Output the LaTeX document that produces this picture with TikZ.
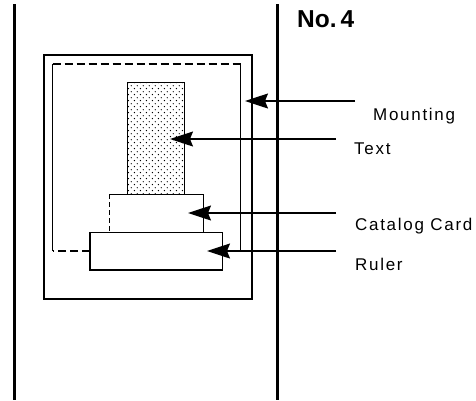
\documentclass[tikz,border=0pt]{standalone}
\usepackage{fontspec}
\setmainfont{Liberation Sans}
\newfontfamily\labfont[LetterSpace=10]{Liberation Sans}
\usetikzlibrary{arrows.meta,patterns}
\pgfdeclarepatternformonly{sdots}{\pgfpointorigin}{\pgfpoint{5.8pt}{5.8pt}}{\pgfpoint{5.8pt}{5.8pt}}{%
  \pgfpathcircle{\pgfpoint{1.45pt}{1.45pt}}{0.7pt}%
  \pgfpathcircle{\pgfpoint{4.35pt}{4.35pt}}{0.7pt}%
  \pgfusepath{fill}}
\tikzset{
  boxnode/.style={draw, line width=1.3pt, inner sep=0pt, outer sep=0pt, anchor=north west},
  plainnode/.style={inner sep=0pt, outer sep=0pt, anchor=north west},
  lab/.style={inner sep=0pt, anchor=base west, font=\labfont\fontsize{17}{20}\selectfont},
  leader/.style={line width=1.2pt, -{Stealth[length=23pt,width=15pt,inset=3pt]}},
  thickline/.style={line width=3pt},
  dashline/.style={line width=1.3pt, dash pattern=on 8pt off 4pt},
}
\begin{document}
\begin{tikzpicture}[x=1pt,y=-1pt]
\useasboundingbox (0,0) rectangle (476,400);
% page edges
\coordinate (lt) at (14,4); \coordinate (lb) at (14,400);
\coordinate (rt) at (277,4); \coordinate (rb) at (277,400);
\draw[thickline] (lt) -- (lb);
\draw[thickline] (rt) -- (rb);
% outer mounting box
\node[boxnode, minimum width=208pt, minimum height=244pt] (outer) at (44,55) {};
% dashed inner outline
\coordinate (d1) at (90,251);
\coordinate (d2) at (52.7,251);
\coordinate (d3) at (52.7,64);
\coordinate (d4) at (240.7,64);
\coordinate (d5) at (240.7,251);
\draw[dashline] (d1) -- (d2);
\draw[line width=1.3pt] (d2) -- (d3);
\draw[dashline] (d3) -- (d4);
\draw[line width=1.3pt] (d4) -- (d5);
% text block
\node[boxnode, pattern=sdots, minimum width=56.6pt, minimum height=112pt] (text) at (127.7,82.3) {};
% catalog card
\node[plainnode, minimum width=94pt, minimum height=38pt] (card) at (109.3,194.3) {};
\draw[line width=1.3pt] (card.north west) -- (card.north east) -- (card.south east);
\draw[line width=1.3pt, dash pattern=on 5pt off 3pt] (card.north west) -- (card.south west);
% ruler
\node[boxnode, fill=white, minimum width=132.3pt, minimum height=37.7pt] (ruler) at (90,232.3) {};
% labels
\node[font=\bfseries\fontsize{24.5}{27}\selectfont, inner sep=0pt, anchor=base west] (no) at (297,27) {No.\,4};
\node[lab] (lmount) at (373,120) {Mounting};
\node[lab] (ltext) at (354,154) {Text};
\node[lab] (lcard) at (355,230) {Catalog Card};
\node[lab] (lruler) at (355,270) {Ruler};
% leader lines
\coordinate (smount) at (355,101); \coordinate (emount) at (245,101);
\coordinate (stext) at (336,139); \coordinate (etext) at (170,139);
\coordinate (scard) at (336,213); \coordinate (ecard) at (188,213);
\coordinate (sruler) at (336,251); \coordinate (eruler) at (207,251);
\draw[leader] (smount) -- (emount);
\draw[leader] (stext) -- (etext);
\draw[leader] (scard) -- (ecard);
\draw[leader] (sruler) -- (eruler);
\end{tikzpicture}
\end{document}
